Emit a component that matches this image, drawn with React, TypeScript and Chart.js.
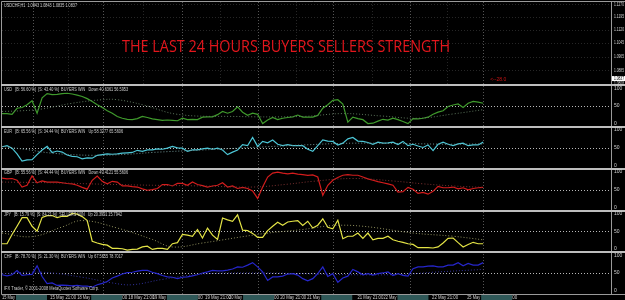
import React, { useEffect, useRef } from 'react';
import { Chart, registerables } from 'chart.js';

Chart.register(...registerables);

// ---------------- DATA ----------------
const symbolInfo = 'USDCHF,H1  1.0843 1.0843 1.0835 1.0837';
const titleText = 'THE LAST 24 HOURS BUYERS SELLERS STRENGTH';
const arrowText = '<--28.0';
const copyrightText = 'IFX Trader, \u00A9 2001-2008 MetaQuotes Software Corp.';

const priceTicks = [1.127, 1.1195, 1.112, 1.1045, 1.0965, 1.0885, 1.0808];
const lastPrice = 1.0837;
const indicatorTicks = [100, 50, 0];

const usd = [29,29,27,44,46,54,65,30,73,85,82,83,85,86,84,81,77,71,63,54,46,37,30,21,16,13,12,15,21,18,14,12,10,11,10,9,16,12,13,12,19,20,20,26,35,30,35,48,33,24,30,27,1,11,18,12,16,18,20,25,19,19,19,24,44,54,66,68,56,5,19,15,12,1,2,8,13,11,16,12,7,1,15,14,16,19,27,33,37,49,53,56,46,58,63,61,58];
const eur = [53,56,49,33,13,16,17,31,44,54,37,41,38,30,26,25,19,22,21,29,31,33,32,33,35,36,37,43,40,44,44,47,46,49,54,50,49,40,44,44,47,49,46,49,44,31,38,44,59,56,79,54,68,64,72,60,56,59,56,56,56,46,40,56,72,69,68,58,63,75,79,69,68,65,60,66,63,64,66,59,68,56,60,55,51,58,42,60,66,60,56,61,63,56,58,58,66];
const gbp = [82,80,81,76,57,62,88,69,74,71,71,71,69,67,66,62,56,51,76,88,73,66,73,71,60,60,58,57,52,48,50,53,64,64,60,67,67,62,71,64,61,57,60,62,69,57,60,53,56,53,46,25,57,85,96,99,96,94,96,93,92,90,91,85,34,62,76,84,90,92,90,90,85,80,76,72,69,66,62,43,44,56,51,39,42,37,45,59,55,55,57,52,55,49,53,55,56];
const jpy = [15,15,41,64,88,88,64,50,89,94,94,88,92,92,100,98,91,80,22,17,13,11,2,2,1,-3,-1,0,6,8,-1,2,2,-1,15,18,41,39,36,55,31,59,39,27,87,82,78,96,53,52,44,33,33,52,64,75,67,76,78,80,66,78,59,67,85,61,57,81,29,36,36,45,30,45,26,30,30,36,26,22,19,15,13,4,4,4,3,6,17,30,31,18,6,13,19,15,15];
const chf = [45,42,45,57,43,45,46,70,40,20,22,15,16,15,14,15,13,13,10,17,21,26,36,41,47,51,52,55,57,57,52,48,43,39,38,34,38,39,42,45,50,53,57,56,56,58,61,67,66,72,79,67,53,29,39,39,41,47,48,44,34,28,34,48,67,40,48,24,36,41,60,53,45,48,44,48,50,53,43,48,43,41,62,67,67,69,70,67,67,72,72,79,70,77,72,72,79];

// slow averages: [bar index, value]
const usdAvg: [number, number][] = [[0,35],[4,37],[8,42],[14,58],[20,68],[23,68],[28,54],[35,27],[46,21],[60,21],[68,29],[76,22],[83,16],[90,28],[96,40]];
const eurAvg: [number, number][] = [[0,54],[5,45],[10,35],[18,29],[25,32],[30,37],[40,44],[50,51],[60,58],[70,63],[80,62],[90,60],[96,61]];
const gbpAvg: [number, number][] = [[0,71],[10,69],[20,65],[30,62],[40,60],[50,57],[57,65],[62,73],[70,81],[78,74],[84,66],[90,60],[96,56]];
const jpyAvg: [number, number][] = [[0,45],[6,35],[12,62],[16,80],[23,59],[30,27],[34,6],[40,17],[52,43],[60,55],[66,66],[72,64],[82,45],[90,36],[96,26]];
const chfAvg: [number, number][] = [[0,48],[8,52],[16,38],[22,22],[26,17],[32,32],[40,47],[50,50],[60,48],[70,45],[80,46],[86,52],[96,60]];

const paneNames = ['USD', 'EUR', 'GBP', 'JPY', 'CHF'];
const paneHeaders = [
  'USD   [B: 56.60 %]  [S: 43.40 %]  BUYERS WIN   Down 40.6361 56.5953',
  'EUR   [B: 65.56 %]  [S: 34.44 %]  BUYERS WIN   Up 58.3277 65.5606',
  'GBP   [B: 55.56 %]  [S: 44.44 %]  BUYERS WIN   Down 49.4121 55.5606',
  'JPY   [B: 15.79 %]  [S: 84.21 %]  SELLERS WIN   Up 20.3991 15.7942',
  'CHF   [B: 78.70 %]  [S: 21.30 %]  BUYERS WIN   Up 67.5655 78.7017',
];

const daySeparators = [6.2, 20.2, 35.9, 51.1, 66.1, 81.4, 96];
const timeLabelPos = [0, 9.6, 15, 25.2, 30.1, 40.5, 45.3, 55.5, 60.9, 70.9, 76.1, 85.8, 92.8];
const timeLabelText = ['15 May', '15 May 21:00', '18 May', '18 May 21:00', '19 May', '19 May 21:00', '20 May', '20 May 21:00', '21 May', '21 May 21:00', '22 May', '22 May 21:00', '25 May'];

// ---------------- STYLE ----------------
const lineColors = ['#3f9a2c', '#4cc6d6', '#d41c1c', '#e4e446', '#2626cc'];
const avgColors = ['#5b745b', '#6f9494', '#7a3030', '#8e8e5c', '#30309a'];
const headerWidths = [124, 119, 124, 118, 119];

const mtPlugin = {
  id: 'mt4look',
  beforeDraw(chart: any) {
    const { ctx, width, height } = chart;
    ctx.save();
    ctx.fillStyle = '#000';
    ctx.fillRect(0, 0, width, height);
    ctx.restore();
  },
  beforeDatasetsDraw(chart: any) {
    const { ctx, chartArea, scales } = chart;
    const xs = scales.x;
    const main = scales.yMain;
    ctx.save();
    ctx.lineWidth = 1;
    ctx.setLineDash([1, 2]);
    ctx.strokeStyle = '#262626';
    for (const p of priceTicks) {
      const y = Math.round(main.getPixelForValue(p)) + 0.5;
      ctx.beginPath(); ctx.moveTo(chartArea.left, y); ctx.lineTo(chartArea.right, y); ctx.stroke();
    }
    for (let i = 0; i < daySeparators.length - 1; i++) {
      const mid = (daySeparators[i] + daySeparators[i + 1]) / 2;
      const x = Math.round(xs.getPixelForValue(mid)) + 0.5;
      ctx.beginPath(); ctx.moveTo(x, main.top); ctx.lineTo(x, main.bottom); ctx.stroke();
    }
    ctx.strokeStyle = '#555';
    for (const d of daySeparators) {
      const x = Math.round(xs.getPixelForValue(d)) + 0.5;
      ctx.beginPath(); ctx.moveTo(x, chartArea.top); ctx.lineTo(x, chartArea.bottom); ctx.stroke();
    }
    ctx.strokeStyle = '#b8b8b8';
    for (const n of paneNames) {
      const s = scales['y' + n];
      const y = Math.round(s.getPixelForValue(50)) + 0.5;
      ctx.beginPath(); ctx.moveTo(chartArea.left, y); ctx.lineTo(chartArea.right, y); ctx.stroke();
    }
    ctx.restore();
  },
  afterDraw(chart: any) {
    const { ctx, chartArea, scales, width } = chart;
    const xs = scales.x;
    const main = scales.yMain;
    ctx.save();
    ctx.strokeStyle = '#9a9a9a';
    ctx.lineWidth = 1;
    ctx.beginPath();
    ctx.moveTo(chartArea.left - 0.5, chartArea.top - 0.5);
    ctx.lineTo(width, chartArea.top - 0.5);
    ctx.moveTo(chartArea.left - 0.5, chartArea.top - 0.5);
    ctx.lineTo(chartArea.left - 0.5, chartArea.bottom + 0.5);
    ctx.lineTo(width, chartArea.bottom + 0.5);
    ctx.moveTo(chartArea.right + 0.5, chartArea.top - 0.5);
    ctx.lineTo(chartArea.right + 0.5, chartArea.bottom + 0.5);
    ctx.stroke();
    ctx.strokeStyle = '#bdbdbd';
    ctx.lineWidth = 2;
    for (const n of paneNames) {
      const y = Math.round(scales['y' + n].top);
      ctx.beginPath(); ctx.moveTo(chartArea.left - 1, y); ctx.lineTo(width, y); ctx.stroke();
    }
    ctx.font = '5px "Liberation Sans", sans-serif';
    ctx.textBaseline = 'middle';
    ctx.textAlign = 'left';
    ctx.fillStyle = '#cfcfcf';
    const lx = chartArea.right + 3;
    for (const p of priceTicks) ctx.fillText(p.toFixed(4), lx, main.getPixelForValue(p), 10);
    for (const n of paneNames) {
      const s = scales['y' + n];
      for (const t of indicatorTicks) ctx.fillText(String(t), lx, s.getPixelForValue(t), 10);
    }
    const py = main.getPixelForValue(lastPrice);
    ctx.fillStyle = '#ffffff';
    ctx.fillRect(chartArea.right + 1, py - 2.5, 13, 5);
    ctx.fillStyle = '#000';
    ctx.fillText(lastPrice.toFixed(4), lx, py, 10);
    ctx.fillStyle = '#cfcfcf';
    ctx.fillText(symbolInfo, chartArea.left + 2, main.top + 4, 73);
    paneNames.forEach((n, i) => {
      const s = scales['y' + n];
      ctx.fillText(paneHeaders[i], chartArea.left + 2, s.top + 4, headerWidths[i]);
    });
    const chfScale = scales.yCHF;
    ctx.fillText(copyrightText, chartArea.left + 2, chfScale.bottom - 5, 95);
    ctx.fillStyle = '#d01414';
    ctx.fillText(arrowText, xs.getPixelForValue(97.4), main.getPixelForValue(1.0829), 17);
    const ty = chartArea.bottom + 3.5;
    timeLabelText.forEach((t, i) => {
      const x = xs.getPixelForValue(timeLabelPos[i]);
      const nextX = i + 1 < timeLabelPos.length ? xs.getPixelForValue(timeLabelPos[i + 1]) : Infinity;
      const boxed = t.length < 8;
      const maxW = boxed ? 13 : 26;
      const w = Math.min(ctx.measureText(t).width, maxW);
      ctx.fillStyle = '#cfcfcf';
      ctx.fillText(t, x, ty, maxW);
      if (boxed) {
        const bx = x + w + 1;
        const bw = Math.min(31, nextX - bx - 2);
        ctx.fillStyle = '#2f5858';
        ctx.fillRect(bx, chartArea.bottom + 1, bw, 5);
        if (bx + bw + 6 <= nextX) {
          ctx.fillStyle = '#cfcfcf';
          ctx.fillText('00', bx + bw, ty, 5);
        }
      }
    });
    ctx.font = '16px "Open Sans", sans-serif';
    ctx.textBaseline = 'alphabetic';
    ctx.fillStyle = '#e3161c';
    ctx.fillText(titleText, 122, main.top + 50, 328);
    ctx.restore();
  },
};

export default function App() {
  const ref = useRef<HTMLCanvasElement>(null);
  useEffect(() => {
    document.body.style.margin = '0';
    document.body.style.background = '#000';
    const series = [usd, eur, gbp, jpy, chf];
    const avgs = [usdAvg, eurAvg, gbpAvg, jpyAvg, chfAvg];
    const datasets: any[] = [];
    paneNames.forEach((n, i) => {
      datasets.push({
        label: n + ' avg',
        data: avgs[i].map(([x, y]) => ({ x, y })),
        yAxisID: 'y' + n,
        xAxisID: 'x',
        borderColor: avgColors[i],
        borderWidth: 1,
        borderDash: [1, 2],
        pointRadius: 0,
        tension: 0.4,
        fill: false,
      });
      datasets.push({
        label: n,
        data: series[i].map((y, x) => ({ x, y })),
        yAxisID: 'y' + n,
        xAxisID: 'x',
        borderColor: lineColors[i],
        borderWidth: 1.2,
        pointRadius: 0,
        tension: 0,
        fill: false,
      });
    });
    const paneScale = (w: number) => ({
      type: 'linear', position: 'right', stack: 'panes', stackWeight: w, min: -9, max: 108, display: false,
    });
    const chart = new Chart(ref.current as HTMLCanvasElement, {
      type: 'line',
      data: { datasets },
      options: {
        responsive: false,
        animation: false,
        events: [],
        layout: { padding: { left: 2, top: 2, right: 14, bottom: 6 } },
        plugins: { legend: { display: false }, tooltip: { enabled: false } },
        scales: {
          x: { type: 'linear', min: 0, max: 121.5, display: false },
          yMain: { type: 'linear', position: 'right', stack: 'panes', stackWeight: 2, min: 1.0797, max: 1.1283, display: false },
          yUSD: paneScale(1),
          yEUR: paneScale(1),
          yGBP: paneScale(1),
          yJPY: paneScale(1),
          yCHF: paneScale(1),
        } as any,
      },
      plugins: [mtPlugin],
    } as any);
    return () => chart.destroy();
  }, []);
  return (
    <div style={{ width: 625, height: 300, background: '#000' }}>
      <canvas ref={ref} width={625} height={300} style={{ display: 'block' }} />
    </div>
  );
}
